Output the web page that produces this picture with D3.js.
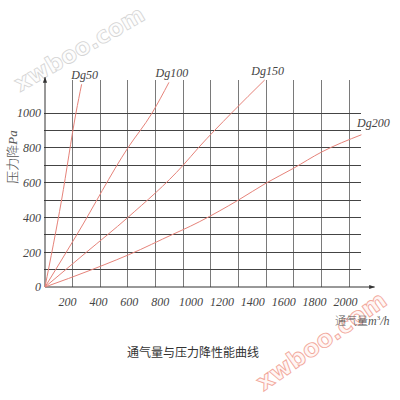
<!DOCTYPE html>
<html><head><meta charset="utf-8">
<script src="https://cdn.jsdelivr.net/npm/d3@7"></script>
<style>
html,body{margin:0;padding:0;background:#fff;}
svg{display:block;}
</style></head>
<body>
<svg id="chart" width="400" height="400"></svg>
<script>
// ---- data ----
const seriesNames = ["Dg50", "Dg100", "Dg150", "Dg200"];
const dg50  = [[0,0],[120,500],[224,1000],[265,1165]];
const dg100 = [[0,0],[230,300],[600,800],[775,1000],[897,1176]];
const dg150 = [[0,0],[300,200],[600,400],[1000,700],[1110,800],[1350,1000],[1590,1190]];
const dg200 = [[0,0],[340,100],[690,215],[850,275],[1120,376],[1400,500],[1600,597],[1800,683],[2000,775],[2290,875]];
const seriesData = [dg50, dg100, dg150, dg200];
const xGridValues = [200,400,600,800,1000,1200,1400,1600,1800,2000,2200];
const yGridValues = [100,200,300,400,500,600,700,800,900,1000];
const xTickLabels = [200,400,600,800,1000,1200,1400,1600,1800,2000];
const yTickLabels = [0,200,400,600,800,1000];
const yTitle = "压力降";
const yUnit = "Pa";
const xTitle = "通气量";
const chartTitle = "通气量与压力降性能曲线";
const watermark = "xwboo.com";

// ---- layout ----
const svg = d3.select("#chart");
const x = d3.scaleLinear().domain([0, 2200]).range([45, 349]);
const y = d3.scaleLinear().domain([0, 1000]).range([287, 113]);
// tick labels in the source are spread slightly wider than the grid
const xLab = d3.scaleLinear().domain([200, 2000]).range([67, 345]);

const serif = "'Liberation Serif','DejaVu Serif',serif";
const cjk = "'Noto Sans CJK SC','Noto Sans',sans-serif";

// watermarks (behind)
const wm = svg.append("g");
wm.append("text").attr("transform","translate(80,50) rotate(-30)")
  .attr("text-anchor","middle").attr("dominant-baseline","middle")
  .style("font-family","'DejaVu Sans',sans-serif").style("font-weight","bold")
  .style("font-size","23px").attr("fill","#fdfdfd").attr("stroke","#d4d4d4").attr("stroke-width",0.8)
  .text(watermark);
wm.append("text").attr("transform","translate(322,342) rotate(-35)")
  .attr("text-anchor","middle").attr("dominant-baseline","middle")
  .style("font-family","'DejaVu Sans',sans-serif").style("font-weight","bold")
  .style("font-size","24px").attr("fill","#fff6f4").attr("stroke","#f2a89c").attr("stroke-width",0.9)
  .text(watermark);

// vertical grid
svg.append("g").selectAll("line").data(xGridValues).join("line")
  .attr("x1", d => x(d)).attr("x2", d => x(d))
  .attr("y1", y(0)).attr("y2", y(1190))
  .attr("stroke", "#7a7a7a").attr("stroke-width", 1).attr("shape-rendering","crispEdges");

// horizontal grid
svg.append("g").selectAll("line").data(yGridValues).join("line")
  .attr("x1", x(-10)).attr("x2", x(2290))
  .attr("y1", d => y(d)).attr("y2", d => y(d))
  .attr("stroke", "#444").attr("stroke-width", 1).attr("shape-rendering","crispEdges");

// axes lines with arrows
const defs = svg.append("defs");
defs.append("marker").attr("id","arr").attr("viewBox","0 0 10 10").attr("refX",9).attr("refY",5)
  .attr("markerWidth",6).attr("markerHeight",6).attr("orient","auto")
  .append("path").attr("d","M0,1.5 L10,5 L0,8.5 Z").attr("fill","#333");
svg.append("line").attr("x1", x(0)).attr("x2", x(0)).attr("y1", y(0)).attr("y2", y(1205))
  .attr("stroke","#333").attr("stroke-width",1).attr("marker-end","url(#arr)");
svg.append("line").attr("x1", x(0)).attr("x2", x(2385)).attr("y1", y(0)).attr("y2", y(0))
  .attr("stroke","#333").attr("stroke-width",1).attr("marker-end","url(#arr)");

// curves
const line = d3.line().x(d => x(d[0])).y(d => y(d[1])).curve(d3.curveMonotoneX);
svg.append("g").selectAll("path").data(seriesData).join("path")
  .attr("d", line).attr("fill","none").attr("stroke","#e6837a").attr("stroke-width",1);

// series labels
svg.append("g").selectAll("text").data(seriesData).join("text")
  .attr("x", (d,i) => x(d[d.length-1][0]) + (i === seriesData.length-1 ? 12 : 3))
  .attr("y", (d,i) => y(d[d.length-1][1]) - (i === seriesData.length-1 ? 8 : 5))
  .attr("text-anchor","middle")
  .style("font-family", serif).style("font-style","italic").style("font-size","12px")
  .attr("fill","#444")
  .text((d,i) => seriesNames[i]);

// y axis labels
const yAxis = svg.append("g").attr("transform", `translate(${x(0)},0)`)
  .call(d3.axisLeft(y).tickValues(yTickLabels).tickSize(0).tickPadding(4).tickFormat(d3.format("d")));
yAxis.select(".domain").remove();
yAxis.selectAll("text").style("font-family", serif).style("font-style","italic")
  .style("font-size","12px").attr("fill","#444");

// x axis labels
const xAxis = svg.append("g").attr("transform", `translate(0,${y(0)})`)
  .call(d3.axisBottom(xLab).tickValues(xTickLabels).tickSize(0).tickPadding(10).tickFormat(d3.format("d")));
xAxis.select(".domain").remove();
xAxis.selectAll("text").style("font-family", serif).style("font-style","italic")
  .style("font-size","12px").attr("fill","#444");

// y title
const yt = svg.append("text").attr("transform","translate(17,157) rotate(-90)")
  .attr("text-anchor","middle").attr("fill","#555").style("font-size","13px");
yt.append("tspan").style("font-family", cjk).style("font-weight","300").text(yTitle);
yt.append("tspan").style("font-family", serif).style("font-style","italic").text(yUnit);

// x title
const xt = svg.append("text").attr("x", 335).attr("y", 325).attr("fill","#555").style("font-size","11px");
xt.append("tspan").style("font-family", cjk).style("font-weight","300").text(xTitle);
xt.append("tspan").style("font-family", serif).style("font-style","italic").style("font-size","12px").text("m");
xt.append("tspan").style("font-family", serif).style("font-size","7px").attr("dy",-5).text("3");
xt.append("tspan").style("font-family", serif).style("font-style","italic").style("font-size","12px").attr("dy",5).text("/h");

// chart title
svg.append("text").attr("x", 193).attr("y", 357).attr("text-anchor","middle")
  .style("font-family", cjk).style("font-size","12px").attr("fill","#333")
  .text(chartTitle);
</script>
</body></html>
